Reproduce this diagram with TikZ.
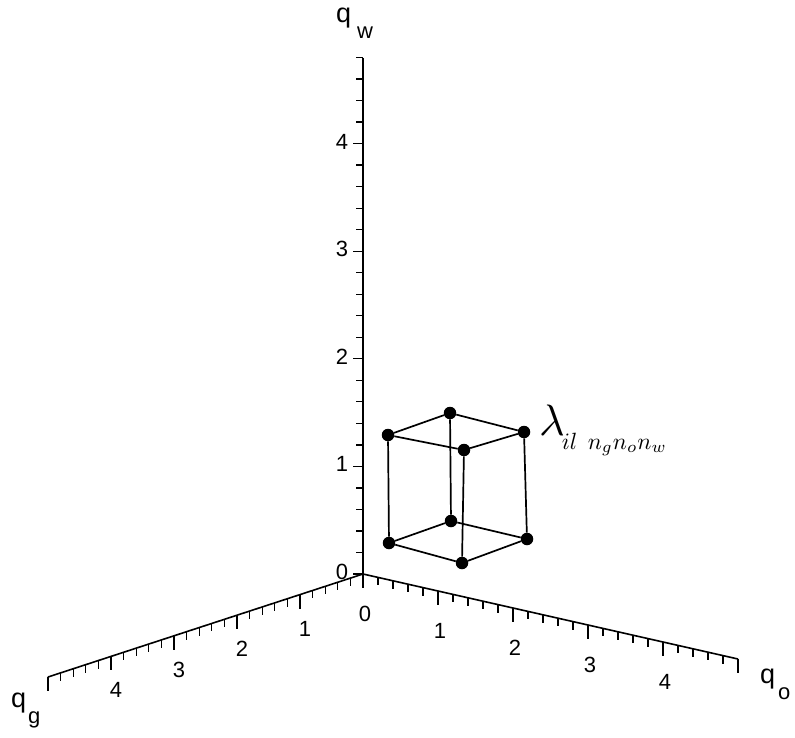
\documentclass[tikz,border=0pt]{standalone}
\usepackage{fontspec}
\setmainfont{Liberation Sans}
\usepackage{tikz}

\newcommand{\axname}[2]{q\kern#1\raisebox{-16pt}{\fontsize{22}{24}\selectfont #2}}

\begin{document}
\begin{tikzpicture}[
    x={(-63pt,-20.6pt)}, y={(75pt,-17pt)}, z={(0pt,107.6pt)},
    axis/.style={line width=1.6pt},
    axtick/.style={line width=1.3pt},
    tlab/.style={font=\fontsize{22}{24}\selectfont, inner sep=0pt},
    alab/.style={font=\fontsize{27}{29}\selectfont, inner sep=0pt, anchor=base west},
    vertex/.style={circle, fill=black, inner sep=0pt, minimum size=12.5pt},
    cubeedge/.style={line width=1.7pt}
]
\useasboundingbox (-363pt,-163pt) rectangle (432pt,574pt);

% axes
\coordinate (O) at (0,0,0);
\coordinate (gend) at (5,0,0);
\coordinate (oend) at (0,5,0);
\coordinate (wend) at (0,0,4.8);
\draw[axis] (gend) -- (O) -- (oend);
\draw[axis] (O) -- (wend);

% ticks
\foreach \i in {1,...,25} {
    \draw[axtick] (\i/5,0,0) -- ++(0pt,-8pt);
    \draw[axtick] (0,\i/5,0) -- ++(0pt,-8pt);
}
\foreach \i in {1,...,24}
    \draw[axtick] (0,0,\i/5) -- ++(-7pt,0pt);
\foreach \k in {0,...,5} {
    \draw[axtick] (\k,0,0) -- ++(0pt,-14pt);
    \draw[axtick] (0,\k,0) -- ++(0pt,-14pt);
}
\foreach \k in {0,...,4}
    \draw[axtick] (0,0,\k) -- ++(-10pt,0pt);

% tick labels
\foreach \k in {1,...,4}
    \node[tlab] (g\k) at ([shift={(5pt,-34pt)}]\k,0,0) {\k};
\foreach \k in {0,...,4} {
    \node[tlab] (o\k) at ([shift={(2pt,-40pt)}]0,\k,0) {\k};
    \node[tlab] (w\k) at ([shift={(-21pt,2pt)}]0,0,\k) {\k};
}

% axis names
\node[alab] (qw) at (-27pt,551pt) {\axname{6pt}{w}};
\node[alab] (qo) at (397pt,-109pt) {\axname{3pt}{o}};
\node[alab] (qg) at (-352pt,-133pt) {\axname{2pt}{g}};

% cube
\node[vertex] (tl) at (25pt,139pt) {};
\node[vertex] (tb) at (87pt,161pt) {};
\node[vertex] (tr) at (161pt,142pt) {};
\node[vertex] (tf) at (101pt,124pt) {};
\node[vertex] (bl) at (26pt,31pt) {};
\node[vertex] (bb) at (88pt,53pt) {};
\node[vertex] (br) at (164pt,35pt) {};
\node[vertex] (bf) at (99pt,11pt) {};

\draw[cubeedge] (tl) -- (tb) -- (tr) -- (tf) -- (tl);
\draw[cubeedge] (bl) -- (bb) -- (br) -- (bf) -- (bl);
\draw[cubeedge] (tl) -- (bl);
\draw[cubeedge] (tb) -- (bb);
\draw[cubeedge] (tr) -- (br);
\draw[cubeedge] (tf) -- (bf);

\node[anchor=base west, inner sep=0pt] (lam) at (176pt,139pt)
    {\scalebox{4.4}{$\lambda$}\kern-3pt\raisebox{-14pt}{\scalebox{2.35}{$il\;\,n_g n_o n_w$}}};
\end{tikzpicture}
\end{document}
